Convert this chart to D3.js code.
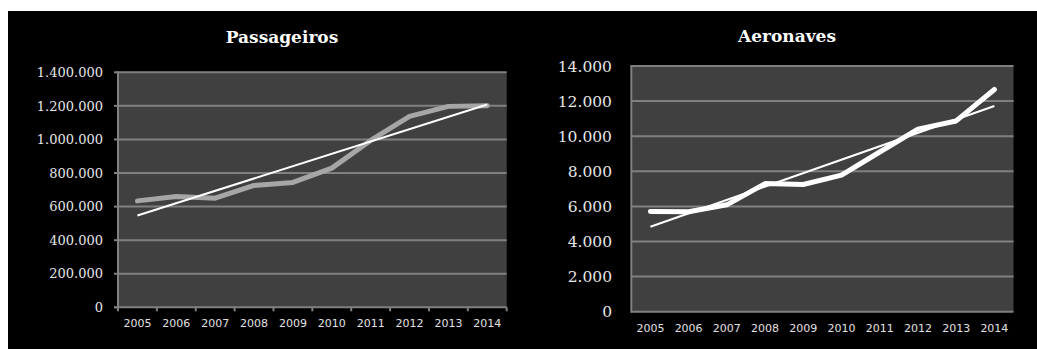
<!DOCTYPE html>
<html>
<head>
<meta charset="utf-8">
<script src="https://cdn.jsdelivr.net/npm/d3@7"></script>
<style>
html,body{margin:0;padding:0;background:#fff;}
svg{display:block;}
</style>
</head>
<body>
<svg id="chart" width="1037" height="349"></svg>
<script>
// ---- Data ----
const years = ["2005","2006","2007","2008","2009","2010","2011","2012","2013","2014"];
const passageiros = [634000, 660000, 650000, 726000, 744000, 829000, 994000, 1137000, 1197000, 1201000];
const passageirosTrend = [547000, 1208000];   // linear trend at 2005 and 2014
const aeronaves = [5710, 5700, 6090, 7300, 7250, 7780, 9100, 10400, 10870, 12660];
const aeronavesTrend = [4840, 11720];          // linear trend at 2005 and 2014
const passTicks = [0, 200000, 400000, 600000, 800000, 1000000, 1200000, 1400000];
const aeroTicks = [0, 2000, 4000, 6000, 8000, 10000, 12000, 14000];
const titles = ["Passageiros", "Aeronaves"];

const fmt = v => d3.format(",")(v).replace(/,/g, ".");

const svg = d3.select("#chart");
svg.append("rect").attr("x", 8).attr("y", 11).attr("width", 1029).attr("height", 338).attr("fill", "#000");

function drawChart(cfg) {
  const g = svg.append("g");
  const x = d3.scaleBand().domain(years).range([cfg.x0, cfg.x1]);
  const y = d3.scaleLinear().domain([0, cfg.ticks[cfg.ticks.length - 1]]).range([cfg.y1, cfg.y0]);

  g.append("rect").attr("x", cfg.x0).attr("y", cfg.y0)
    .attr("width", cfg.x1 - cfg.x0).attr("height", cfg.y1 - cfg.y0).attr("fill", "#404040");

  // gridlines
  g.selectAll(".grid").data(cfg.ticks.filter(t => t > 0)).join("line")
    .attr("x1", cfg.x0).attr("x2", cfg.x1)
    .attr("y1", d => y(d)).attr("y2", d => y(d))
    .attr("stroke", "#808080").attr("stroke-width", 2);

  // axes lines
  g.append("line").attr("x1", cfg.x0).attr("x2", cfg.x0).attr("y1", cfg.y0 - 1).attr("y2", cfg.y1 + 1)
    .attr("stroke", "#808080").attr("stroke-width", 2);
  g.append("line").attr("x1", cfg.x0 - (cfg.yTicks ? 4 : 0)).attr("x2", cfg.x1).attr("y1", cfg.y1).attr("y2", cfg.y1)
    .attr("stroke", "#808080").attr("stroke-width", 2);

  if (cfg.yTicks) {
    g.selectAll(".yt").data(cfg.ticks).join("line")
      .attr("x1", cfg.x0 - 4).attr("x2", cfg.x0)
      .attr("y1", d => y(d)).attr("y2", d => y(d))
      .attr("stroke", "#808080").attr("stroke-width", 2);
    const bounds = years.map(yr => x(yr)).concat([cfg.x1]);
    g.selectAll(".xt").data(bounds).join("line")
      .attr("x1", d => d).attr("x2", d => d)
      .attr("y1", cfg.y1).attr("y2", cfg.y1 + 4)
      .attr("stroke", "#808080").attr("stroke-width", 2);
  }

  // y labels
  g.selectAll(".yl").data(cfg.ticks).join("text")
    .attr("x", cfg.labelX).attr("y", d => y(d)).attr("dy", "0.36em")
    .attr("text-anchor", "end")
    .attr("font-family", "DejaVu Serif").attr("font-size", cfg.yFont)
    .attr("fill", "#e6e6e6").text(d => fmt(d));

  // x labels
  g.selectAll(".xl").data(years).join("text")
    .attr("x", d => x(d) + x.bandwidth() / 2).attr("y", cfg.xLabelY)
    .attr("text-anchor", "middle")
    .attr("font-family", "DejaVu Sans").attr("font-size", 11)
    .attr("fill", "#e0e0e0").text(d => d);

  // data line
  const line = d3.line().x((d, i) => x(years[i]) + x.bandwidth() / 2).y(d => y(d));
  g.append("path").datum(cfg.values).attr("d", line)
    .attr("fill", "none").attr("stroke", cfg.lineColor).attr("stroke-width", 5)
    .attr("stroke-linejoin", "round").attr("stroke-linecap", "round");

  // trend line
  const tx = [x(years[0]) + x.bandwidth() / 2, x(years[years.length - 1]) + x.bandwidth() / 2];
  g.append("line").attr("x1", tx[0]).attr("x2", tx[1])
    .attr("y1", y(cfg.trend[0])).attr("y2", y(cfg.trend[1]))
    .attr("stroke", "#fff").attr("stroke-width", 2);

  // title
  g.append("text").attr("x", cfg.titleX).attr("y", cfg.titleY)
    .attr("text-anchor", "middle")
    .attr("font-family", "DejaVu Serif").attr("font-weight", "bold").attr("font-size", 17)
    .attr("fill", "#fff").text(cfg.title);
}

drawChart({
  title: titles[0], titleX: 282, titleY: 42.5,
  x0: 118, x1: 506.7, y0: 72.3, y1: 307.3,
  ticks: passTicks, values: passageiros, trend: passageirosTrend,
  labelX: 103, yFont: 13, xLabelY: 327, yTicks: true, lineColor: "#a6a6a6"
});

drawChart({
  title: titles[1], titleX: 787, titleY: 41.5,
  x0: 631.3, x1: 1013.5, y0: 66, y1: 311.7,
  ticks: aeroTicks, values: aeronaves, trend: aeronavesTrend,
  labelX: 612, yFont: 15.5, xLabelY: 332, yTicks: false, lineColor: "#ffffff"
});
</script>
</body>
</html>
